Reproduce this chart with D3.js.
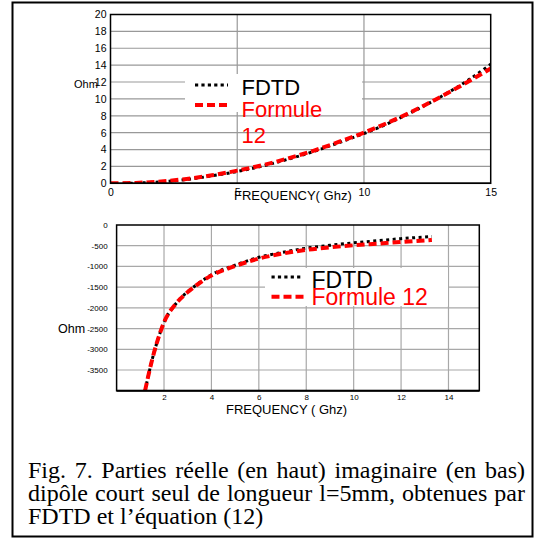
<!DOCTYPE html>
<html><head><meta charset="utf-8">
<script src="https://cdn.jsdelivr.net/npm/d3@7"></script>
<style>body{margin:0;background:#fff}</style>
</head><body>
<svg id="c" width="537" height="545"></svg>
<script>
// ---------- DATA ----------
// Top chart: real part (Ohm) vs frequency (GHz)
const topFreqFormula = [0, 1, 2, 3, 4, 5, 6, 7, 8, 9, 10, 11, 12, 13, 14, 15];
const topFormula     = [0, 0.05, 0.22, 0.52, 0.95, 1.5, 2.15, 2.95, 3.85, 4.9, 6.0, 7.25, 8.65, 10.2, 11.85, 13.6];
const topFreqFdtd    = [0.5, 1, 2, 3, 4, 5, 6, 7, 8, 9, 10, 11, 12, 13, 14, 15];
const topFdtd        = [0, 0.03, 0.18, 0.45, 0.88, 1.4, 2.05, 2.85, 3.75, 4.8, 5.9, 7.15, 8.6, 10.2, 12.0, 14.1];
const topXTicks = [0, 5, 10, 15];
const topYTicks = [0, 2, 4, 6, 8, 10, 12, 14, 16, 18, 20];

// Bottom chart: imaginary part (Ohm) vs frequency (GHz)
const botFreq    = [1.2, 1.5, 1.7, 2, 2.5, 3, 3.5, 4, 5, 6, 7, 8, 9, 10, 11, 12, 13.3];
const botFormula = [-4000, -3250, -2840, -2350, -1900, -1620, -1400, -1220, -990, -810, -690, -600, -540, -490, -450, -410, -360];
const botFdtd    = [-4000, -3250, -2840, -2350, -1900, -1610, -1390, -1200, -970, -780, -660, -560, -490, -430, -380, -330, -280];
const botXTicks = [2, 4, 6, 8, 10, 12, 14];
const botYTicks = [0, -500, -1000, -1500, -2000, -2500, -3000, -3500];

const legendLabels = ["FDTD", "Formule 12"];
const xLabelTop = "FREQUENCY( Ghz)";
const xLabelBot = "FREQUENCY ( Ghz)";
const yLabel = "Ohm";
const captionLines = [
  "Fig. 7. Parties réelle (en haut) imaginaire (en bas)",
  "dipôle court seul de longueur l=5mm, obtenues par",
  "FDTD et l’équation (12)"
];

// ---------- DRAW ----------
const SANS = "'Liberation Sans', Arial, Helvetica, sans-serif";
const SERIF = "'Liberation Serif', 'Times New Roman', Times, serif";
const svg = d3.select("#c");
svg.append("rect").attr("width", 537).attr("height", 545).attr("fill", "#fff");
svg.append("rect").attr("x", 12.5).attr("y", 2.5).attr("width", 520).attr("height", 534)
  .attr("fill", "none").attr("stroke", "#000").attr("stroke-width", 2);

const defs = svg.append("defs");

function drawChart(o) {
  const { x, y, xTicks, yTicks, vGrid, hGrid, series, gridColor } = o;
  const g = svg.append("g");
  const [x0, x1] = x.range();
  const [y0, y1] = y.range();
  // grid
  g.selectAll("line.h").data(hGrid).join("line")
    .attr("x1", x0).attr("x2", x1).attr("y1", d => y(d)).attr("y2", d => y(d))
    .attr("stroke", gridColor).attr("stroke-width", 1.2);
  g.selectAll("line.v").data(vGrid).join("line")
    .attr("y1", y0).attr("y2", y1).attr("x1", d => x(d)).attr("x2", d => x(d))
    .attr("stroke", gridColor).attr("stroke-width", 1.2);
  // clip
  const id = "clip" + o.name;
  defs.append("clipPath").attr("id", id).append("rect")
    .attr("x", x0).attr("y", y1).attr("width", x1 - x0).attr("height", y0 - y1);
  const cg = g.append("g").attr("clip-path", `url(#${id})`);
  series.forEach(s => {
    const line = d3.line().x((d, i) => x(s.xs[i])).y(d => y(d)).curve(d3.curveMonotoneX);
    cg.append("path").attr("d", line(s.ys)).attr("fill", "none")
      .attr("stroke", s.color).attr("stroke-width", s.width).attr("stroke-dasharray", s.dash);
  });
  // legend box
  const L = o.legend;
  g.append("rect").attr("x", L.bx).attr("y", L.by).attr("width", L.bw).attr("height", L.bh).attr("fill", "#fff");
  g.append("line").attr("x1", L.lx0).attr("x2", L.lx1).attr("y1", L.y1).attr("y2", L.y1)
    .attr("stroke", "#000").attr("stroke-width", 3.2).attr("stroke-dasharray", "3.2,3.2");
  g.append("line").attr("x1", L.lx0).attr("x2", L.lx1).attr("y1", L.y2).attr("y2", L.y2)
    .attr("stroke", "#ff0000").attr("stroke-width", 4).attr("stroke-dasharray", "8,4");
  g.append("text").attr("x", L.tx).attr("y", L.t1).attr("font-family", SANS).attr("font-size", L.fs)
    .attr("fill", "#000").text(legendLabels[0]);
  const t2 = g.append("text").attr("x", L.tx).attr("y", L.t2).attr("font-family", SANS).attr("font-size", L.fs)
    .attr("fill", "#ff0000");
  if (L.wrap) {
    const parts = legendLabels[1].split(" ");
    t2.append("tspan").attr("x", L.tx).text(parts[0]);
    t2.append("tspan").attr("x", L.tx).attr("dy", L.wrap).text(parts[1]);
  } else t2.text(legendLabels[1]);
  // frame
  g.append("rect").attr("x", x0).attr("y", y1).attr("width", x1 - x0).attr("height", y0 - y1)
    .attr("fill", "none").attr("stroke", "#000").attr("stroke-width", 1.5);
  g.append("line").attr("x1", x0).attr("x2", x1).attr("y1", y0).attr("y2", y0)
    .attr("stroke", "#000").attr("stroke-width", o.bottomW);
  // axes
  const ay = g.append("g").attr("transform", `translate(${x0},0)`)
    .call(d3.axisLeft(y).tickValues(yTicks).tickSize(0).tickPadding(o.yPad).tickFormat(d => String(d)));
  ay.select(".domain").remove();
  ay.attr("font-family", SANS).attr("font-size", o.tickFs);
  ay.selectAll("text").attr("fill", "#000");
  const ax = g.append("g").attr("transform", `translate(0,${y0})`)
    .call(d3.axisBottom(x).tickValues(xTicks).tickSize(0).tickPadding(o.xPad).tickFormat(d => String(d)));
  ax.select(".domain").remove();
  ax.attr("font-family", SANS).attr("font-size", o.tickFs);
  ax.selectAll("text").attr("fill", "#000");
  // labels
  g.append("text").attr("x", o.yl[0]).attr("y", o.yl[1]).attr("font-family", SANS).attr("font-size", o.ylFs).text(yLabel);
  g.append("text").attr("x", o.xl[0]).attr("y", o.xl[1]).attr("font-family", SANS).attr("font-size", 13).text(o.xLabel);
}

// Top chart
const tx = d3.scaleLinear().domain([0, 15]).range([110.5, 490.7]);
const ty = d3.scaleLinear().domain([0, 20]).range([183.3, 14.5]);
drawChart({
  name: "top", x: tx, y: ty, xTicks: topXTicks, yTicks: topYTicks,
  vGrid: [5, 10], hGrid: topYTicks.filter(v => v > 0 && v < 20), gridColor: "#999",
  series: [
    { xs: topFreqFdtd, ys: topFdtd, color: "#000", width: 3, dash: "3,3.5" },
    { xs: topFreqFormula, ys: topFormula, color: "#ff0000", width: 4, dash: "8,4" }
  ],
  legend: { bx: 185, by: 74, bw: 177, bh: 38, lx0: 195, lx1: 228, y1: 85, y2: 105, tx: 241.5, t1: 94.5, t2: 116.5, fs: 22, wrap: 26 },
  yPad: 4, xPad: 5, tickFs: 10.5, bottomW: 1.5,
  yl: [74, 87.5], ylFs: 11, xl: [234, 200], xLabel: xLabelTop
});

// Bottom chart
const bx = d3.scaleLinear().domain([0, 15.3]).range([116.6, 479.3]);
const by = d3.scaleLinear().domain([-4000, 0]).range([390.7, 225]);
drawChart({
  name: "bot", x: bx, y: by, xTicks: botXTicks, yTicks: botYTicks,
  vGrid: botXTicks, hGrid: botYTicks.filter(v => v < 0), gridColor: "#a8a8a8",
  series: [
    { xs: botFreq, ys: botFdtd, color: "#000", width: 3, dash: "3,3.5" },
    { xs: botFreq, ys: botFormula, color: "#ff0000", width: 4, dash: "8,4" }
  ],
  legend: { bx: 265, by: 268, bw: 183, bh: 38, lx0: 271.5, lx1: 303.5, y1: 277, y2: 296.7, tx: 311.5, t1: 287.5, t2: 305, fs: 23, wrap: 0 },
  yPad: 9, xPad: 4, tickFs: 8, bottomW: 2,
  yl: [58, 332.5], ylFs: 12.5, xl: [226, 414], xLabel: xLabelBot
});

// Caption (justified first two lines)
const capX = 28, capW = 497;
const capY = [478, 501, 524];
captionLines.forEach((t, i) => {
  const el = svg.append("text").attr("x", capX).attr("y", capY[i])
    .attr("font-family", SERIF).attr("font-size", 24).attr("fill", "#000").text(t);
  if (i < 2) {
    const len = el.node().getComputedTextLength();
    const n = (t.match(/ /g) || []).length;
    el.style("word-spacing", ((capW - len) / n) + "px");
  }
});
</script>
</body></html>
